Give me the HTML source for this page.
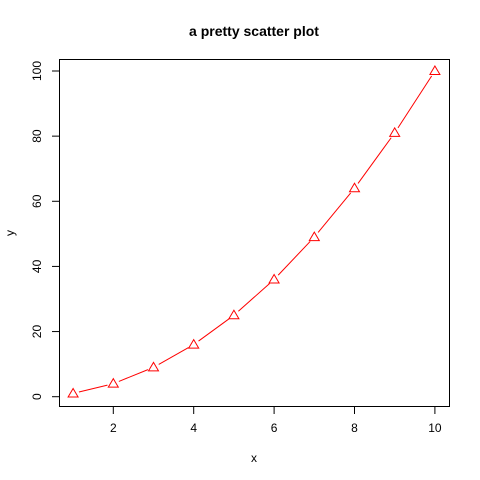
<!DOCTYPE html>
<html><head><meta charset="utf-8"><style>body{margin:0;background:#fff}svg{display:block;font-family:"Liberation Sans",Arial,sans-serif}</style></head>
<body>
<svg id="c" width="480" height="480">
<rect width="480" height="480" fill="#fff"/>
<text x="254" y="36" text-anchor="middle" font-size="14" font-weight="bold">a pretty scatter plot</text>
<rect x="59.5" y="59.5" width="390" height="347" fill="none" stroke="#000"/>
<text x="254" y="462" text-anchor="middle" font-size="12">x</text>
<text transform="translate(14,233) rotate(-90)" text-anchor="middle" font-size="12">y</text>
<g id="ax"></g><g id="marks"></g>
</svg>
<script>
const xs=[1,2,3,4,5,6,7,8,9,10];
const ys=[1,4,9,16,25,36,49,64,81,100];
const xTicks=[2,4,6,8,10];
const yTicks=[0,20,40,60,80,100];
const sx=v=>73.1+(v-1)*40.2;
const sy=v=>396.7-v*3.257;
const NS="http://www.w3.org/2000/svg";
const ax=document.getElementById('ax'),mk=document.getElementById('marks');
function el(t,a,p){const e=document.createElementNS(NS,t);for(const k in a)e.setAttribute(k,a[k]);p.appendChild(e);return e;}
xTicks.forEach(v=>{
 const l=el('line',{x1:sx(v),x2:sx(v),y1:407,y2:414,stroke:'#000'},ax);
 
 
 const t=el('text',{x:sx(v),y:432,'text-anchor':'middle','font-size':12},ax);t.textContent=v;
 
 
});
yTicks.forEach(v=>{
 const l=el('line',{x1:52,x2:59,y1:sy(v),y2:sy(v),stroke:'#000'},ax);
 
 
 const t=el('text',{transform:`translate(41,${sy(v)}) rotate(-90)`,'text-anchor':'middle','font-size':12},ax);t.textContent=v;
 
 
});
const gap=6;
for(let i=0;i<xs.length-1;i++){
 const x1=sx(xs[i]),y1=sy(ys[i]),x2=sx(xs[i+1]),y2=sy(ys[i+1]);
 const d=Math.hypot(x2-x1,y2-y1),ux=(x2-x1)/d,uy=(y2-y1)/d;
 if(d>2*gap){const s=el('line',{x1:x1+ux*gap,y1:y1+uy*gap,x2:x2-ux*gap,y2:y2-uy*gap,stroke:'#ff0000','stroke-width':1},mk);
 
 }
}
xs.forEach((v,i)=>{
 const cx=sx(v),cy=sy(ys[i]);
 const p=el('polygon',{points:`${cx},${cy-5} ${cx-5},${cy+3.5} ${cx+5},${cy+3.5}`,fill:'none',stroke:'#ff0000','stroke-width':1},mk);
 
 
});
</script>
</body></html>
